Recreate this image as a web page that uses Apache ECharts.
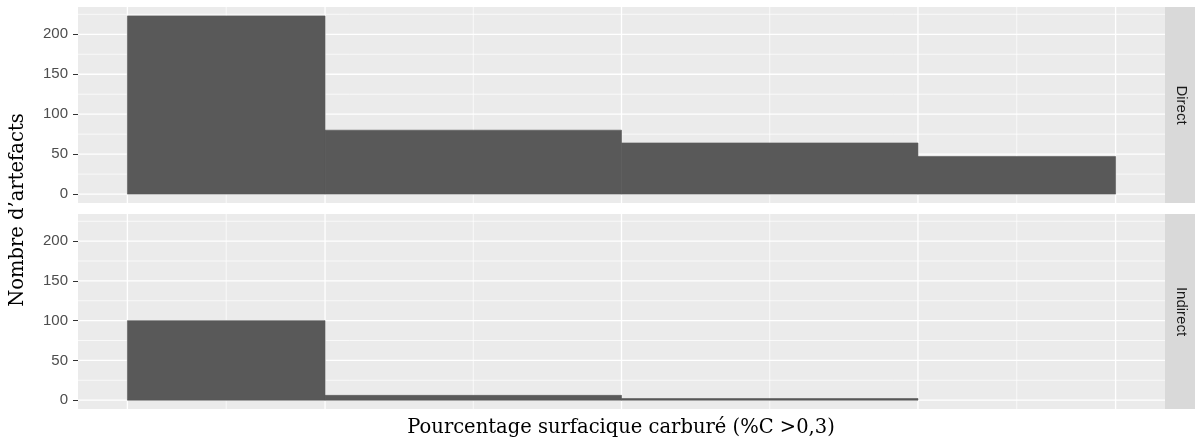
<!DOCTYPE html>
<html lang="fr">
<head>
<meta charset="utf-8" />
<title>Pourcentage surfacique carburé</title>
<script src="https://cdn.jsdelivr.net/npm/echarts@6/dist/echarts.min.js"></script>
<style>
  html, body { margin: 0; padding: 0; background: #ffffff; }
  #main { width: 1195px; height: 444px; }
</style>
</head>
<body>
<div id="main"></div>
<script>
// histogram bin edges (x units), counts per facet
const breaks = [0, 20, 50, 80, 100];
const directCounts = [223, 80, 64, 47];
const indirectCounts = [100, 6, 2, 0];
const facets = ['Direct', 'Indirect'];
const yTicks = [0, 50, 100, 150, 200];
const yMinorTicks = [25, 75, 125, 175, 225];
const xTitle = 'Pourcentage surfacique carburé (%C >0,3)';
const yTitle = 'Nombre d\u2019artefacts';

// x minor gridlines sit between the bin edges (ggplot style)
const xMinor = [];
for (let i = 0; i < breaks.length - 1; i++) xMinor.push((breaks[i] + breaks[i + 1]) / 2);

function binData(counts) {
  return counts.map(function (c, i) { return [breaks[i], breaks[i + 1], c]; });
}

// gridline items: [value, vertical?, major?]
const gridItems = []
  .concat(breaks.map(function (v) { return [v, 1, 1]; }))
  .concat(xMinor.map(function (v) { return [v, 1, 0]; }))
  .concat(yTicks.map(function (v) { return [v, 0, 1]; }))
  .concat(yMinorTicks.map(function (v) { return [v, 0, 0]; }));

function renderGrid(params, api) {
  const cs = params.coordSys;
  const v = api.value(0);
  const vertical = api.value(1) === 1;
  const major = api.value(2) === 1;
  let shape;
  if (vertical) {
    const x = api.coord([v, 0])[0];
    shape = { x1: x, y1: cs.y, x2: x, y2: cs.y + cs.height };
  } else {
    const y = api.coord([0, v])[1];
    shape = { x1: cs.x, y1: y, x2: cs.x + cs.width, y2: y };
  }
  return {
    type: 'line',
    shape: shape,
    style: { stroke: '#ffffff', lineWidth: major ? 1.3 : 0.7 }
  };
}

function renderBar(params, api) {
  if (api.value(2) <= 0) return null;
  const p0 = api.coord([api.value(0), api.value(2)]);
  const p1 = api.coord([api.value(1), 0]);
  return {
    type: 'rect',
    shape: { x: p0[0], y: p0[1], width: p1[0] - p0[0], height: p1[1] - p0[1] },
    style: { fill: '#595959', stroke: '#595959', lineWidth: 0.6 }
  };
}

const panels = [
  { top: 7, height: 196 },
  { top: 214, height: 195 }
];
const left = 78, right = 30;

const chart = echarts.init(document.getElementById('main'));

const option = {
  animation: false,
  backgroundColor: '#ffffff',
  grid: panels.map(function (p) {
    return { left: left, right: right, top: p.top, height: p.height, show: true,
             backgroundColor: '#ebebeb', borderWidth: 0 };
  }),
  xAxis: panels.map(function (p, i) {
    return {
      type: 'value', gridIndex: i, min: -5, max: 105,
      axisLine: { show: false, onZero: false }, axisTick: { show: false },
      axisLabel: { show: false }, splitLine: { show: false }
    };
  }),
  yAxis: panels.map(function (p, i) {
    return {
      type: 'value', gridIndex: i, min: -11.15, max: 234.15,
      axisLine: { show: false, onZero: false },
      axisTick: { show: true, customValues: yTicks, length: 5,
                  lineStyle: { color: '#333333', width: 1 } },
      axisLabel: { customValues: yTicks, color: '#4d4d4d', fontSize: 15,
                   fontFamily: 'Liberation Sans, Arial, sans-serif', margin: 10 },
      splitLine: { show: false }
    };
  }),
  series: [
    { type: 'custom', xAxisIndex: 0, yAxisIndex: 0, z: 1, silent: true,
      renderItem: renderGrid, data: gridItems, clip: true },
    { type: 'custom', xAxisIndex: 1, yAxisIndex: 1, z: 1, silent: true,
      renderItem: renderGrid, data: gridItems, clip: true },
    { type: 'custom', name: facets[0], xAxisIndex: 0, yAxisIndex: 0, z: 2,
      renderItem: renderBar, encode: { x: [0, 1], y: 2 }, data: binData(directCounts) },
    { type: 'custom', name: facets[1], xAxisIndex: 1, yAxisIndex: 1, z: 2,
      renderItem: renderBar, encode: { x: [0, 1], y: 2 }, data: binData(indirectCounts) }
  ],
  graphic: [
    // facet strips
    { type: 'rect', left: 1165, top: panels[0].top, shape: { width: 30, height: panels[0].height },
      style: { fill: '#d9d9d9' } },
    { type: 'rect', left: 1165, top: panels[1].top, shape: { width: 30, height: panels[1].height },
      style: { fill: '#d9d9d9' } },
    { type: 'text', x: 1181, y: panels[0].top + panels[0].height / 2, rotation: -Math.PI / 2,
      style: { text: facets[0], fill: '#1a1a1a', font: '15px "Liberation Sans", Arial, sans-serif',
               textAlign: 'center', textVerticalAlign: 'middle' } },
    { type: 'text', x: 1181, y: panels[1].top + panels[1].height / 2, rotation: -Math.PI / 2,
      style: { text: facets[1], fill: '#1a1a1a', font: '15px "Liberation Sans", Arial, sans-serif',
               textAlign: 'center', textVerticalAlign: 'middle' } },
    // axis titles
    { type: 'text', x: 18, y: 210, rotation: Math.PI / 2,
      style: { text: yTitle, fill: '#000000', font: '19.5px "DejaVu Serif", serif',
               textAlign: 'center', textVerticalAlign: 'middle' } },
    { type: 'text', x: 621, y: 428,
      style: { text: xTitle, fill: '#000000', font: '19.5px "DejaVu Serif", serif',
               textAlign: 'center', textVerticalAlign: 'middle' } }
  ]
};

chart.setOption(option);
window.onresize = chart.resize;
</script>
</body>
</html>
